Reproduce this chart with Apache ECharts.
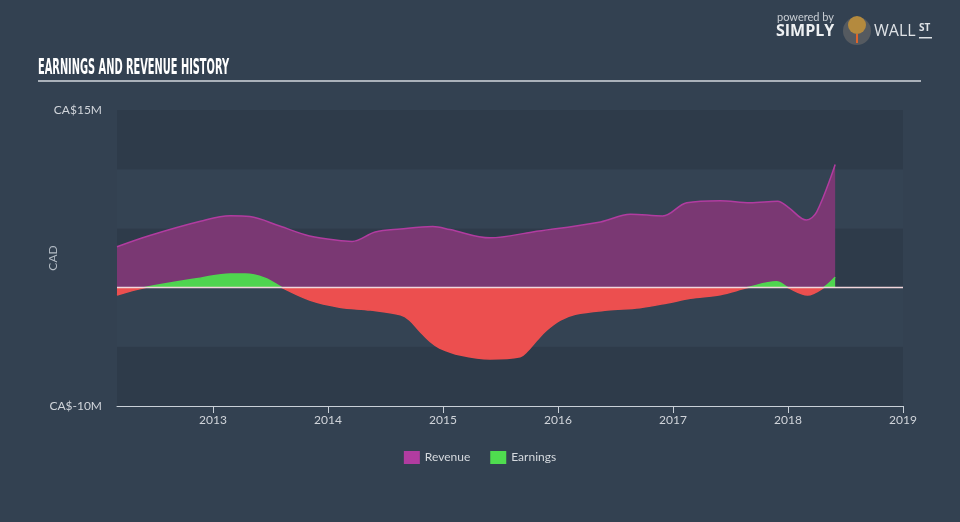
<!DOCTYPE html>
<html>
<head>
<meta charset="utf-8">
<script src="https://cdn.jsdelivr.net/npm/echarts@6/dist/echarts.min.js"></script>
<style>
  html, body { margin: 0; padding: 0; background: #334151; }
  #chart { width: 960px; height: 522px; }
</style>
</head>
<body>
<div id="chart"></div>
<script>
// Time in fractional years, values in CA$ millions
const revenueYears = [2012.165, 2012.45, 2012.89, 2013.15, 2013.32, 2013.58, 2013.84, 2014.15, 2014.21, 2014.41, 2014.63, 2014.91, 2015.06, 2015.41, 2015.78, 2016.37, 2016.63, 2016.91, 2017.12, 2017.41, 2017.67, 2017.91, 2018.0, 2018.16, 2018.25, 2018.41];
const revenueValues = [3.45, 4.4, 5.6, 6.07, 6.0, 5.2, 4.36, 3.93, 3.9, 4.7, 4.95, 5.15, 4.9, 4.2, 4.7, 5.55, 6.2, 6.05, 7.17, 7.34, 7.17, 7.3, 6.8, 5.7, 6.4, 10.4];

const earningsYears = [2012.165, 2012.41, 2012.89, 2013.15, 2013.28, 2013.45, 2013.6, 2013.84, 2014.1, 2014.37, 2014.63, 2014.71, 2014.8, 2014.89, 2014.97, 2015.15, 2015.41, 2015.67, 2015.73, 2015.82, 2015.9, 2016.02, 2016.15, 2016.43, 2016.71, 2016.95, 2017.15, 2017.41, 2017.65, 2017.9, 2018.0, 2018.17, 2018.31, 2018.41];
const earningsValues = [-0.63, 0, 0.8, 1.15, 1.15, 0.8, 0, -1.05, -1.65, -1.9, -2.3, -2.75, -3.7, -4.57, -5.1, -5.7, -6.03, -5.84, -5.4, -4.4, -3.6, -2.75, -2.25, -1.9, -1.7, -1.3, -0.9, -0.6, 0, 0.5, 0, -0.63, 0, 0.87];

const xTickYears = [2013, 2014, 2015, 2016, 2017, 2018, 2019];
const yLabelValues = [-10, 15];
const yMin = -10, yMax = 15;

const zip = (xs, ys) => xs.map((x, i) => [x, ys[i]]);

const chart = echarts.init(document.getElementById('chart'));
const labelFont = 'Lato, "Open Sans", sans-serif';

// title: condensed tall display-like text, fit to the reference width
const titleText = 'EARNINGS AND REVENUE HISTORY';
const titleFont = 'bold 21px "DejaVu Sans Condensed", "DejaVu Sans", sans-serif';
const mctx = document.createElement('canvas').getContext('2d');
mctx.font = titleFont;
const titleScale = 191 / mctx.measureText(titleText).width;

const GREEN = '#4fd54f', RED = '#ec4f4f';

chart.setOption({
  backgroundColor: '#334151',
  animation: false,
  grid: { left: 117, right: 57, top: 110, bottom: 116 },
  legend: {
    top: 446,
    left: 'center',
    icon: 'rect',
    itemWidth: 16,
    itemHeight: 13,
    itemGap: 20,
    textStyle: { color: '#d5d9de', fontSize: 12, fontFamily: labelFont },
    data: [
      { name: 'Revenue', itemStyle: { color: '#b13ca0' } },
      { name: 'Earnings', itemStyle: { color: '#4fdc4f' } }
    ]
  },
  xAxis: {
    type: 'value',
    min: 2012.165,
    max: 2019,
    splitLine: { show: false },
    axisLine: { show: true, onZero: false, lineStyle: { color: '#c9d0d8', width: 1 } },
    axisTick: { show: true, length: 7, customValues: xTickYears, lineStyle: { color: '#c9d0d8' } },
    axisLabel: {
      customValues: xTickYears,
      color: '#d0d4da',
      fontSize: 12,
      margin: 8,
      fontFamily: labelFont,
      formatter: v => String(Math.round(v))
    }
  },
  yAxis: {
    type: 'value',
    min: yMin,
    max: yMax,
    interval: 5,
    name: 'CAD',
    nameLocation: 'middle',
    nameGap: 58,
    nameMoveOverlap: false,
    nameRotate: 90,
    nameTextStyle: { color: '#b3bbc4', fontSize: 12, fontFamily: labelFont },
    axisLine: { show: false },
    axisTick: { show: false },
    splitLine: { show: false },
    splitArea: { show: true, areaStyle: { color: ['#2e3b4a', '#344353'] } },
    axisLabel: {
      customValues: yLabelValues,
      color: '#d0d4da',
      fontSize: 12,
      margin: 15,
      fontFamily: labelFont,
      formatter: v => 'CA$' + v + 'M'
    }
  },
  series: [
    {
      name: 'Revenue',
      type: 'line',
      smooth: 0.35,
      showSymbol: false,
      data: zip(revenueYears, revenueValues),
      itemStyle: { color: '#b13ca0' },
      lineStyle: { color: '#b13ca0', width: 1.5 },
      areaStyle: { color: '#7a3873', opacity: 1 },
      z: 2
    },
    {
      name: 'Earnings',
      type: 'line',
      smooth: 0.35,
      showSymbol: false,
      data: zip(earningsYears, earningsValues),
      itemStyle: { color: '#4fdc4f' },
      lineStyle: { width: 1.5, color: RED },
      areaStyle: { opacity: 1, color: RED },
      z: 3,
      markLine: {
        silent: true,
        symbol: 'none',
        label: { show: false },
        lineStyle: { color: '#f1d6dc', width: 1.3, type: 'solid' },
        data: [{ yAxis: 0 }]
      }
    }
  ],
  graphic: [
    {
      type: 'text', x: 38, y: 58, scaleX: titleScale,
      style: { text: titleText, fill: '#ffffff', font: titleFont }
    },
    { type: 'rect', shape: { x: 38, y: 80, width: 883, height: 2 }, style: { fill: '#aab1ba' } },
    {
      type: 'text', left: 777, top: 12,
      style: { text: 'powered by', fill: '#c9ced4', font: '11px Lato, sans-serif' }
    },
    {
      type: 'text', left: 776, top: 23,
      style: { text: 'SIMPLY', fill: '#eef0f2', font: 'bold 16px "Open Sans", sans-serif' }
    },
    { type: 'circle', shape: { cx: 857, cy: 31, r: 14 }, style: { fill: '#555a60' } },
    { type: 'circle', shape: { cx: 857, cy: 25, r: 9 }, style: { fill: '#b48a3e' } },
    { type: 'rect', shape: { x: 856, y: 34, width: 2, height: 9 }, style: { fill: '#e0642a' } },
    {
      type: 'text', left: 874, top: 23,
      style: { text: 'WALL', fill: '#dfe2e6', font: '16px "Open Sans", sans-serif' }
    },
    {
      type: 'text', left: 919, top: 23,
      style: { text: 'ST', fill: '#dfe2e6', font: 'bold 10px "Open Sans", sans-serif' }
    },
    { type: 'rect', shape: { x: 919, y: 37, width: 13, height: 1.5 }, style: { fill: '#dfe2e6' } }
  ]
});

// Green above zero, red below: a gradient split at the pixel of y = 0 from the chart's own scale
const yTop = chart.convertToPixel({ yAxisIndex: 0 }, yMax);
const yBot = chart.convertToPixel({ yAxisIndex: 0 }, yMin);
const yZero = chart.convertToPixel({ yAxisIndex: 0 }, 0);
const t = (yZero - yTop) / (yBot - yTop);
const splitGrad = () => new echarts.graphic.LinearGradient(0, yTop, 0, yBot, [
  { offset: 0, color: GREEN },
  { offset: t, color: GREEN },
  { offset: t, color: RED },
  { offset: 1, color: RED }
], true);
chart.setOption({
  series: [{}, {
    lineStyle: { color: splitGrad() },
    areaStyle: { color: splitGrad(), opacity: 1 }
  }]
});
</script>
</body>
</html>
